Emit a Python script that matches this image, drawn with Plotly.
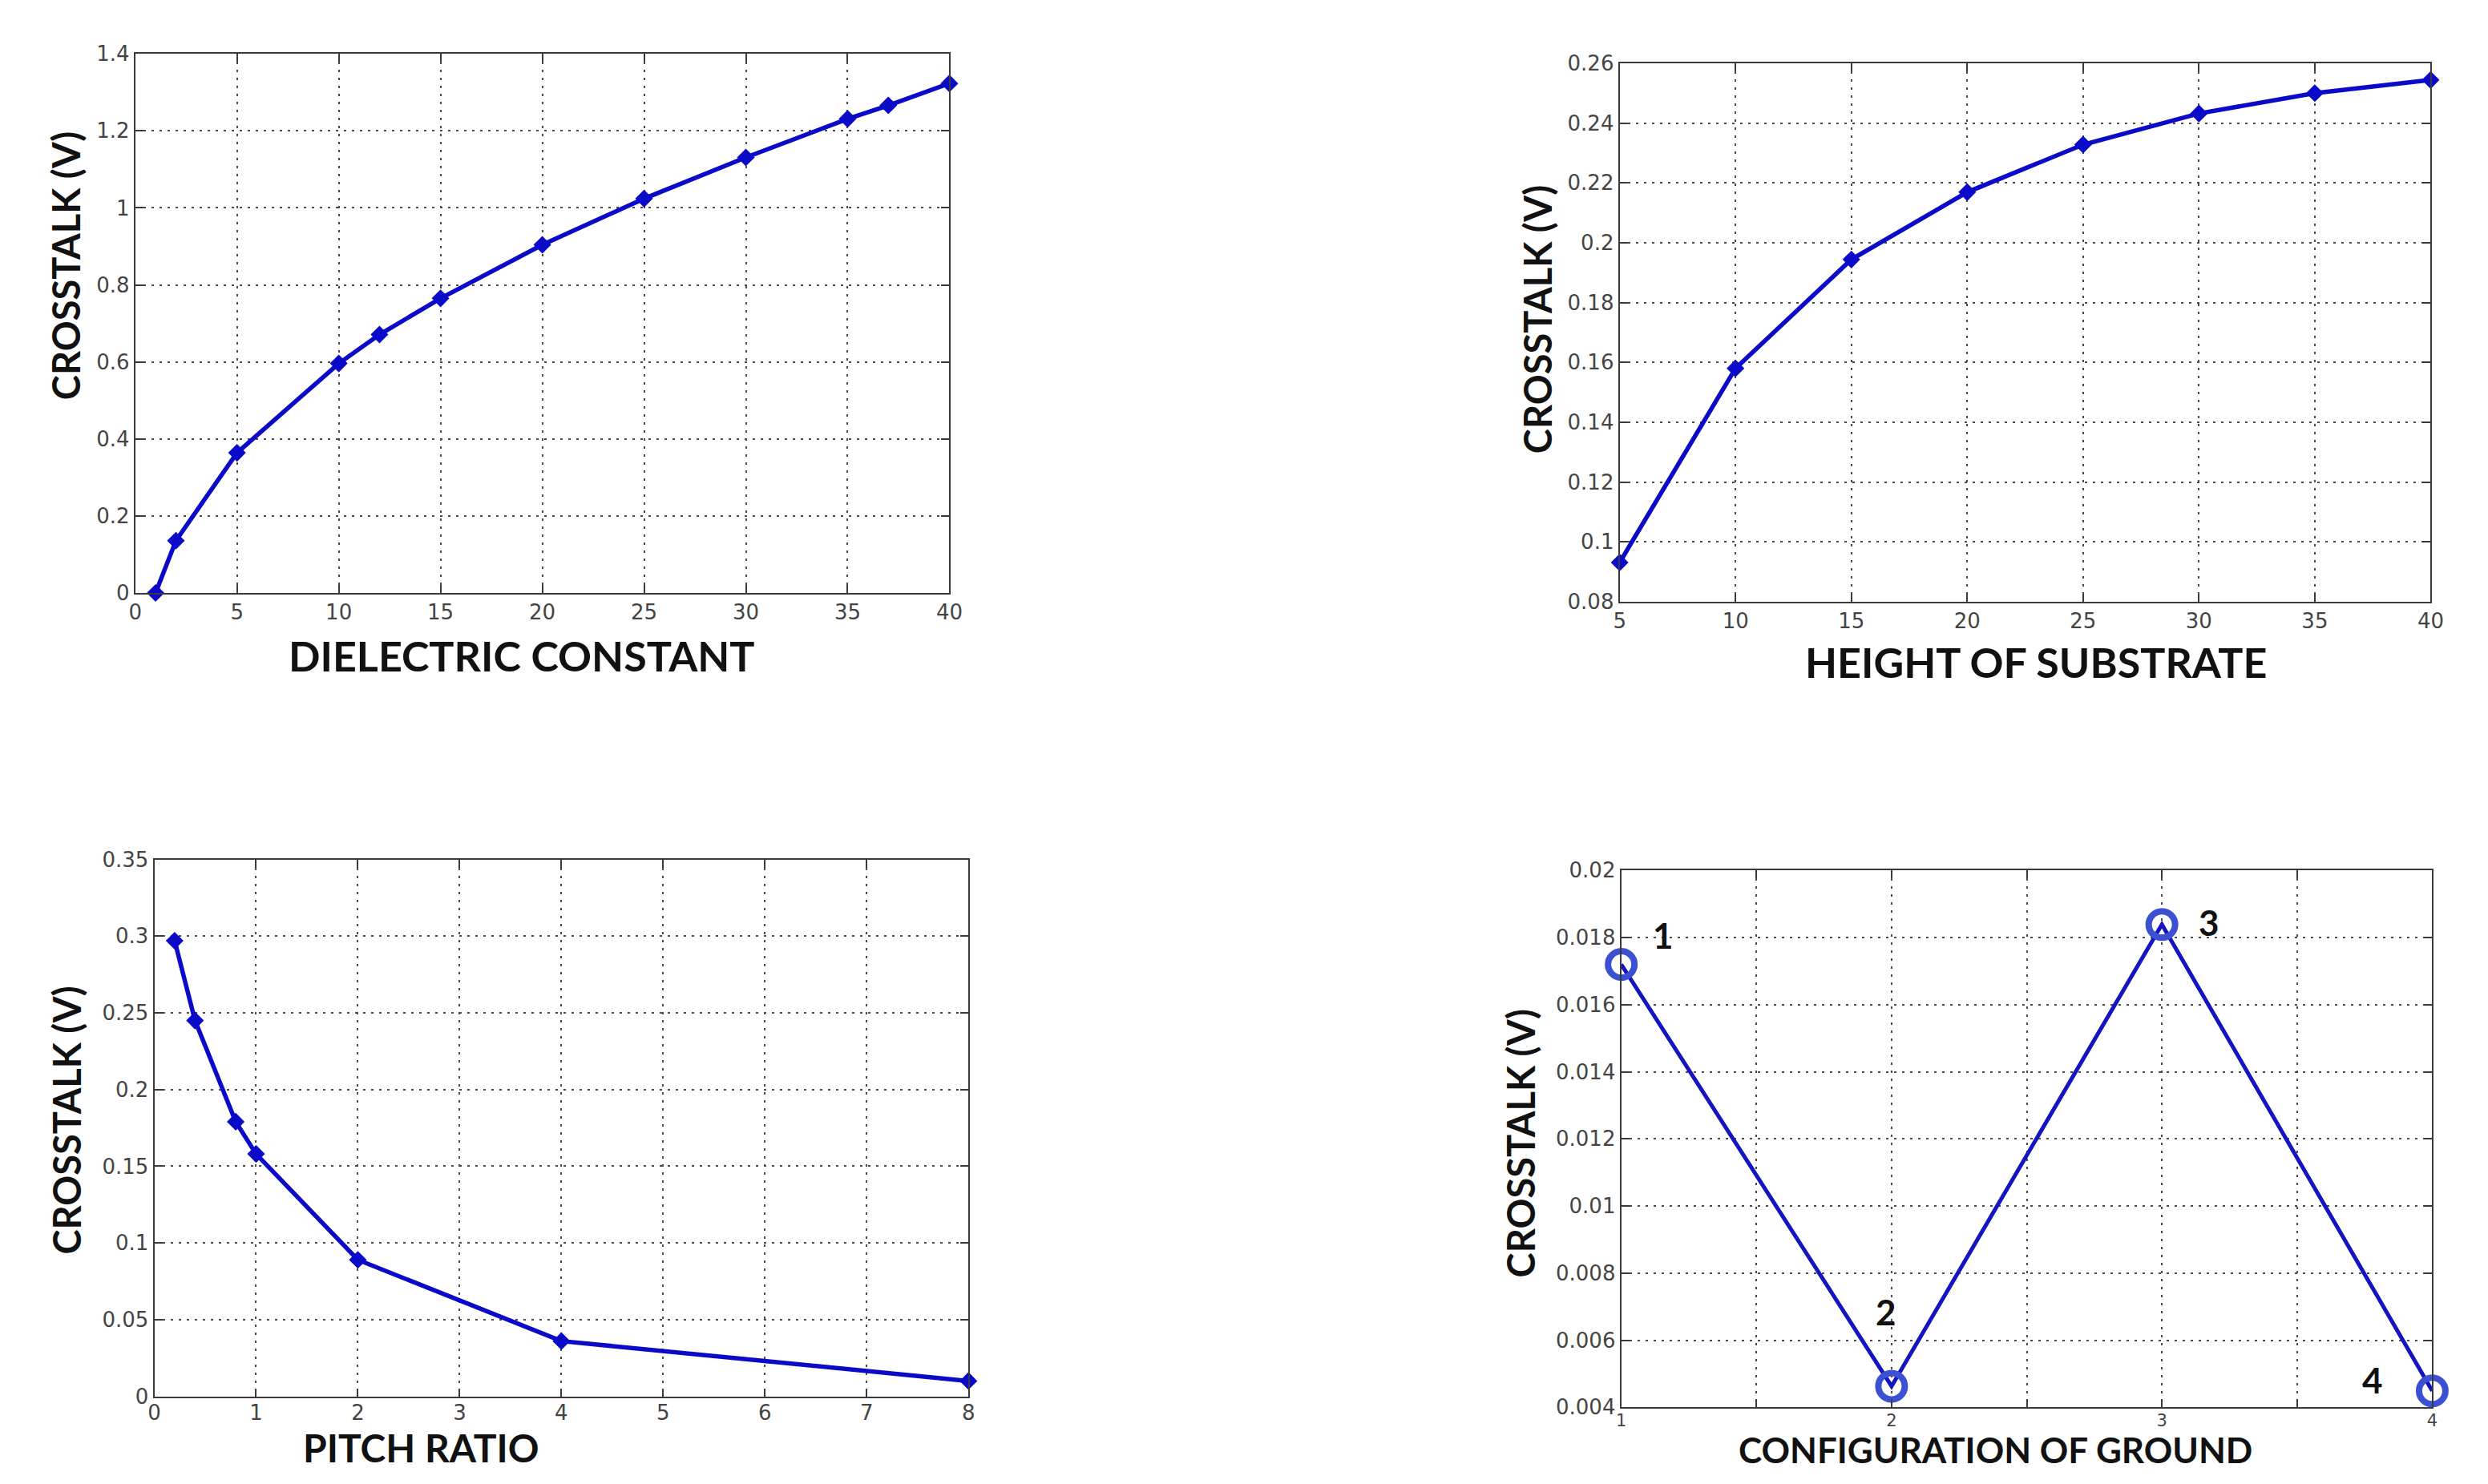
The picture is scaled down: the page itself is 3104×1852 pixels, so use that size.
import plotly.graph_objects as go

W, H = 3104, 1852

# ---------------- data ----------------
diel_x = [1, 2, 5, 10, 12, 15, 20, 25, 30, 35, 37, 40]
diel_y = [0.0, 0.136, 0.364, 0.596, 0.671, 0.765, 0.904, 1.024, 1.131, 1.231, 1.266, 1.323]

height_x = [5, 10, 15, 20, 25, 30, 35, 40]
height_y = [0.0931, 0.158, 0.1944, 0.2169, 0.2328, 0.2432, 0.2500, 0.2544]

pitch_x = [0.2, 0.4, 0.8, 1, 2, 4, 8]
pitch_y = [0.297, 0.245, 0.179, 0.158, 0.089, 0.036, 0.010]

ground_x = [1, 2, 3, 4]
ground_y = [0.0172, 0.00463, 0.01839, 0.00449]
ground_labels = ["1", "2", "3", "4"]
ground_ticks = [1, 1.5, 2, 2.5, 3, 3.5, 4]
ground_ticktext = ["1", "", "2", "", "3", "", "4"]

x_titles = ["DIELECTRIC CONSTANT", "HEIGHT OF SUBSTRATE", "PITCH RATIO", "CONFIGURATION OF GROUND"]
y_title = "CROSSTALK (V)"

# ---------------- layout geometry (pixels: left, top, right, bottom) ----------------
boxes = [(162, 53, 1186, 737), (2029, 65, 3049, 748), (186, 1075, 1210, 1756), (2031, 1089, 3051, 1770)]
# (x centre, y, vertical anchor)
xtitle_pos = [(648, 816, "middle"), (2553, 824, "middle"), (522, 1852, "bottom"), (2502, 1852, "bottom")]
xtitle_size = [52, 52, 48, 44]
ytitle_pos = [(74, 322), (1925, 390), (76, 1406), (1904, 1435)]

def px(x):
    return x / W

def py(y):
    return 1 - y / H

LINE_BLUE = "#0a0ac8"
fig = go.Figure()

series = [(diel_x, diel_y), (height_x, height_y), (pitch_x, pitch_y)]
for i, (xs, ys) in enumerate(series):
    sfx = "" if i == 0 else str(i + 1)
    fig.add_trace(go.Scatter(
        x=xs, y=ys, mode="lines+markers", xaxis="x" + sfx, yaxis="y" + sfx,
        line=dict(color=LINE_BLUE, width=5.5),
        marker=dict(symbol="diamond", size=17, color=LINE_BLUE),
        cliponaxis=False, showlegend=False))

fig.add_trace(go.Scatter(
    x=ground_x, y=ground_y, mode="lines+markers", xaxis="x4", yaxis="y4",
    line=dict(color="#1414c0", width=5),
    marker=dict(symbol="circle-open", size=33, color="#3c50d2", line=dict(width=8, color="#3c50d2")),
    cliponaxis=False, showlegend=False))

axis_common = dict(
    showline=True, mirror="ticks", linecolor="#3a3a3a", linewidth=2,
    ticks="inside", ticklen=10, tickwidth=2, tickcolor="#3a3a3a",
    showgrid=True, gridcolor="#4a4a4a", gridwidth=2, griddash="3px,7px",
    zeroline=False, tickfont=dict(family="DejaVu Sans", size=26, color="#444444"),
)

ranges = [((0, 40), 5, (0, 1.4), 0.2), ((5, 40), 5, (0.08, 0.26), 0.02),
          ((0, 8), 1, (0, 0.35), 0.05), ((1, 4), None, (0.004, 0.02), 0.002)]

layout = dict(width=W, height=H, margin=dict(l=0, r=0, t=0, b=0),
              paper_bgcolor="white", plot_bgcolor="white", showlegend=False)

for i, (box, (xr, xd, yr, yd)) in enumerate(zip(boxes, ranges)):
    sfx = "" if i == 0 else str(i + 1)
    l, t, r, b = box
    xa = dict(axis_common, domain=[px(l), px(r)], range=list(xr), anchor="y" + sfx)
    if xd is not None:
        xa.update(tick0=xr[0], dtick=xd)
    else:
        xa.update(tickmode="array", tickvals=ground_ticks, ticktext=ground_ticktext,
                  tickfont=dict(family="DejaVu Sans", size=21, color="#444444"))
    if i >= 2:
        xa.update(ticklabelstandoff=-4)
    ya = dict(axis_common, domain=[py(b), py(t)], range=list(yr), anchor="x" + sfx,
              tick0=yr[0], dtick=yd)
    layout["xaxis" + sfx] = xa
    layout["yaxis" + sfx] = ya

annotations = []
for (x, y, anc), txt, sz in zip(xtitle_pos, x_titles, xtitle_size):
    annotations.append(dict(text="<b>%s</b>" % txt, xref="paper", yref="paper", x=px(x), y=py(y),
                            xanchor="center", yanchor=anc, showarrow=False,
                            font=dict(family="Lato", size=sz, color="#111111")))
for (x, y) in ytitle_pos:
    annotations.append(dict(text="<b>%s</b>" % y_title, xref="paper", yref="paper", x=px(x), y=py(y),
                            xanchor="center", yanchor="middle", showarrow=False, textangle=-90,
                            font=dict(family="Lato", size=47, color="#111111")))

label_shift = [(52, 37), (-7, 93), (59, 3), (-74, 14)]
for gx, gy, lab, (dx, dy) in zip(ground_x, ground_y, ground_labels, label_shift):
    annotations.append(dict(text="<b>%s</b>" % lab, xref="x4", yref="y4", x=gx, y=gy,
                            xshift=dx, yshift=dy, showarrow=False,
                            font=dict(family="Lato", size=44, color="#111111")))

layout["annotations"] = annotations
fig.update_layout(**layout)

fig.write_html("out.html", config={"displayModeBar": False},
               post_script="document.body.style.margin='0';document.body.style.overflow='hidden';")
